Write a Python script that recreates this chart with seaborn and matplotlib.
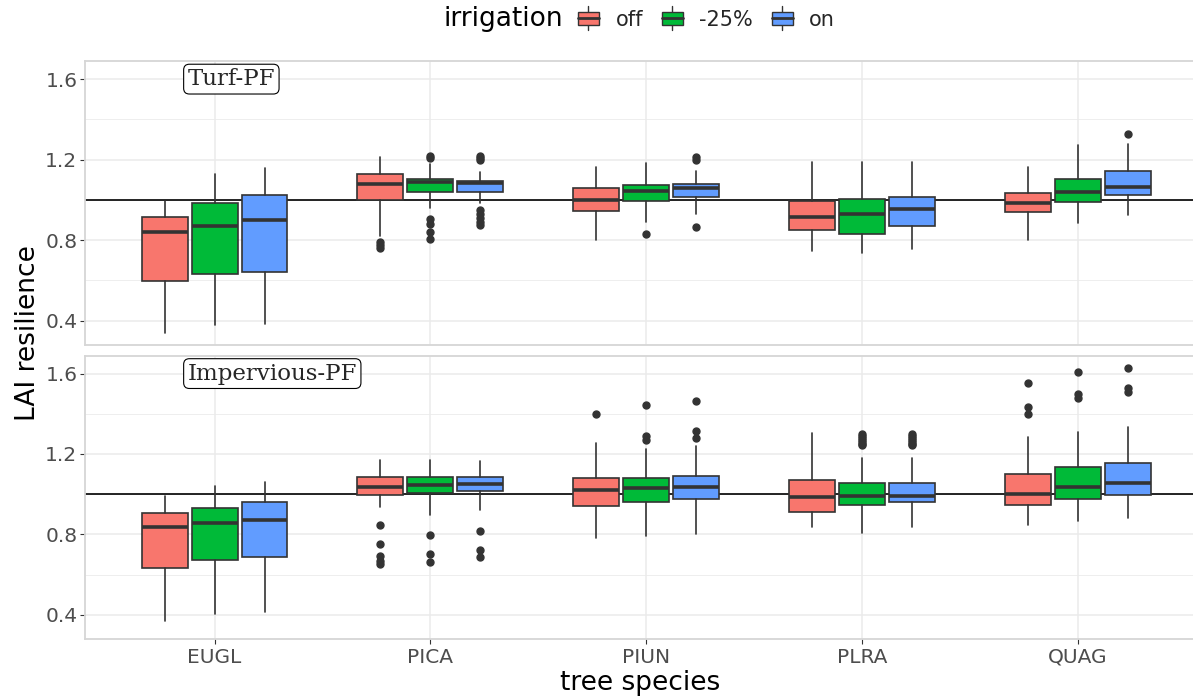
import numpy as np
import matplotlib
matplotlib.use("Agg")
import matplotlib.pyplot as plt
from matplotlib.patches import Patch, Rectangle
from matplotlib.lines import Line2D
from matplotlib.legend_handler import HandlerBase
import seaborn as sns

# ---- data -------------------------------------------------------------
species = ["EUGL", "PICA", "PIUN", "PLRA", "QUAG"]
irrigation = ["off", "-25%", "on"]
palette = ["#F8766D", "#00BA38", "#619CFF"]
panels = ["Turf-PF", "Impervious-PF"]

# Box summaries, one row per species, one column per irrigation level
turf_whislo = [[0.340, 0.379, 0.382], [0.822, 0.961, 0.986], [0.800, 0.890, 0.929],
               [0.746, 0.735, 0.756], [0.803, 0.887, 0.927]]
turf_q1 = [[0.597, 0.632, 0.640], [1.001, 1.041, 1.040], [0.944, 0.993, 1.016],
           [0.852, 0.832, 0.869], [0.940, 0.988, 1.025]]
turf_med = [[0.839, 0.869, 0.902], [1.081, 1.088, 1.083], [1.001, 1.043, 1.059],
            [0.914, 0.932, 0.954], [0.983, 1.038, 1.066]]
turf_q3 = [[0.914, 0.986, 1.026], [1.130, 1.106, 1.094], [1.061, 1.076, 1.078],
           [0.993, 1.006, 1.013], [1.035, 1.106, 1.144]]
turf_whishi = [[0.997, 1.127, 1.159], [1.212, 1.180, 1.140], [1.165, 1.182, 1.144],
               [1.187, 1.187, 1.187], [1.165, 1.271, 1.280]]
turf_fliers = [[[], [], []],
               [[0.790, 0.775, 0.760],
                [1.220, 1.210, 0.905, 0.879, 0.842, 0.806],
                [1.220, 1.210, 1.200, 0.950, 0.930, 0.910, 0.890, 0.875]],
               [[], [0.831], [1.215, 1.200, 0.867]],
               [[], [], []],
               [[], [], [1.328]]]

imp_whislo = [[0.371, 0.404, 0.413], [0.938, 0.896, 0.921], [0.782, 0.792, 0.804],
              [0.837, 0.807, 0.839], [0.845, 0.866, 0.883]]
imp_q1 = [[0.634, 0.673, 0.685], [0.997, 1.007, 1.017], [0.943, 0.959, 0.974],
          [0.913, 0.946, 0.962], [0.948, 0.974, 0.994]]
imp_med = [[0.837, 0.856, 0.873], [1.037, 1.047, 1.053], [1.020, 1.030, 1.038],
           [0.987, 0.989, 0.992], [1.002, 1.038, 1.058]]
imp_q3 = [[0.908, 0.933, 0.960], [1.086, 1.086, 1.086], [1.081, 1.079, 1.089],
          [1.073, 1.058, 1.058], [1.099, 1.136, 1.155]]
imp_whishi = [[0.990, 1.043, 1.059], [1.170, 1.170, 1.165], [1.254, 1.225, 1.241],
              [1.304, 1.180, 1.180], [1.287, 1.309, 1.334]]
imp_fliers = [[[], [], []],
              [[0.845, 0.751, 0.690, 0.670, 0.655],
               [0.796, 0.702, 0.665],
               [0.817, 0.721, 0.686]],
              [[1.398], [1.444, 1.291, 1.268], [1.464, 1.312, 1.279]],
              [[],
               [1.300, 1.290, 1.280, 1.270, 1.260, 1.250, 1.245],
               [1.300, 1.290, 1.280, 1.270, 1.260, 1.250, 1.245]],
              [[1.551, 1.433, 1.399], [1.606, 1.497, 1.477], [1.629, 1.530, 1.510]]]

reference_level = 1.0

panel_stats = [
    (turf_whislo, turf_q1, turf_med, turf_q3, turf_whishi, turf_fliers),
    (imp_whislo, imp_q1, imp_med, imp_q3, imp_whishi, imp_fliers),
]

# ---- styling ------------------------------------------------------------
sns.set_theme(style="whitegrid")
plt.rcParams["font.family"] = ["DejaVu Sans"]

EDGE = "#333333"
GRID = "#ebebeb"
BORDER = "#d6d6d6"
DODGE = 0.2315
BOX_W = 0.213
LABEL_X = -0.125
LABEL_Y = 1.6


class BoxKey(HandlerBase):
    """Legend key drawn as a miniature box-and-whisker glyph."""

    def create_artists(self, legend, orig_handle, xdescent, ydescent,
                       width, height, fontsize, trans):
        x0, y0 = -xdescent, -ydescent
        cx = x0 + width / 2
        lo, hi = y0 + 0.18 * height, y0 + 0.82 * height
        box = Rectangle((x0, lo), width, hi - lo,
                        facecolor=orig_handle.get_facecolor(),
                        edgecolor=EDGE, linewidth=1.0, transform=trans)
        med = Line2D([x0, x0 + width], [y0 + height / 2] * 2,
                     color=EDGE, linewidth=2.0, transform=trans)
        w1 = Line2D([cx, cx], [y0 - 0.1 * height, lo], color=EDGE,
                    linewidth=1.0, transform=trans)
        w2 = Line2D([cx, cx], [hi, y0 + 1.1 * height], color=EDGE,
                    linewidth=1.0, transform=trans)
        return [w1, w2, box, med]


W, H = 1193, 700
fig = plt.figure(figsize=(W / 100, H / 100), dpi=100)
fig.patch.set_facecolor("white")

left = 85 / W
width = (1207.6 - 85) / W
ax_top = fig.add_axes([left, 1 - 344.5 / H, width, (344.5 - 61) / H])
ax_bot = fig.add_axes([left, 1 - 638.5 / H, width, (638.5 - 355.5) / H])

x_idx = np.arange(len(species))

for ax, stats_set, name in zip([ax_top, ax_bot], panel_stats, panels):
    whislo, q1, med, q3, whishi, fliers = stats_set
    ax.axhline(reference_level, color="black", linewidth=1.2, zorder=1)
    for j, colour in enumerate(palette):
        stats = []
        for i in range(len(species)):
            stats.append(dict(whislo=whislo[i][j], q1=q1[i][j], med=med[i][j],
                              q3=q3[i][j], whishi=whishi[i][j],
                              fliers=np.array(fliers[i][j])))
        ax.bxp(stats, positions=x_idx + (j - 1) * DODGE, widths=BOX_W,
               patch_artist=True, showcaps=False, manage_ticks=False,
               boxprops=dict(facecolor=colour, edgecolor=EDGE, linewidth=1.2),
               medianprops=dict(color=EDGE, linewidth=2.6),
               whiskerprops=dict(color=EDGE, linewidth=1.2),
               flierprops=dict(marker="o", markerfacecolor=EDGE,
                               markeredgecolor=EDGE, markersize=5),
               zorder=3)

    ax.set_xlim(-0.6, len(species) - 0.4)
    ax.set_ylim(0.282, 1.69)
    ax.set_yticks([0.4, 0.8, 1.2, 1.6])
    ax.set_yticks([0.6, 1.0, 1.4], minor=True)
    ax.set_yticklabels(["0.4", "0.8", "1.2", "1.6"])
    ax.set_xticks(x_idx)
    ax.grid(which="major", color=GRID, linewidth=1.1)
    ax.grid(which="minor", axis="y", color=GRID, linewidth=0.6)
    ax.set_axisbelow(True)
    for sp in ax.spines.values():
        sp.set_color(BORDER)
        sp.set_linewidth(1.3)
    ax.spines["right"].set_visible(False)
    ax.tick_params(axis="y", which="major", left=True, length=3.5, width=0.8,
                   color=EDGE, labelcolor="#4d4d4d", labelsize=14.5, pad=2)
    ax.tick_params(axis="y", which="minor", left=False)
    ax.set_ylabel("")
    ax.set_xlabel("")
    ax.text(LABEL_X, LABEL_Y, name, family="DejaVu Serif", fontsize=16.5,
            ha="left", va="center", zorder=5,
            bbox=dict(boxstyle="round,pad=0.17,rounding_size=0.25",
                      facecolor="white", edgecolor="black", linewidth=0.8))

ax_top.tick_params(axis="x", bottom=False, labelbottom=False)
ax_bot.set_xticklabels(species)
ax_bot.tick_params(axis="x", bottom=True, length=3.5, width=0.8, color=EDGE,
                   labelcolor="#4d4d4d", labelsize=14.5, pad=3)

fig.text(28 / W, 1 - 333 / H, "LAI resilience", rotation=90, fontsize=19,
         ha="center", va="center", color="black")
fig.text(640 / W, 1 - 683 / H, "tree species", fontsize=19,
         ha="center", va="center", color="black")

# legend across the top
fig.text(444 / W, 1 - 19 / H, "irrigation", fontsize=19, ha="left",
         va="center", color="black")
handles = [Patch(facecolor=c) for c in palette]
fig.legend(handles, irrigation, handler_map={Patch: BoxKey()},
           loc="center left", bbox_to_anchor=(578 / W, 1 - 19 / H), ncol=3,
           frameon=False, fontsize=15, handlelength=1.0, handleheight=1.1,
           handletextpad=0.8, columnspacing=0.9, borderpad=0,
           borderaxespad=0)

fig.savefig("out.png", dpi=100, facecolor="white")
